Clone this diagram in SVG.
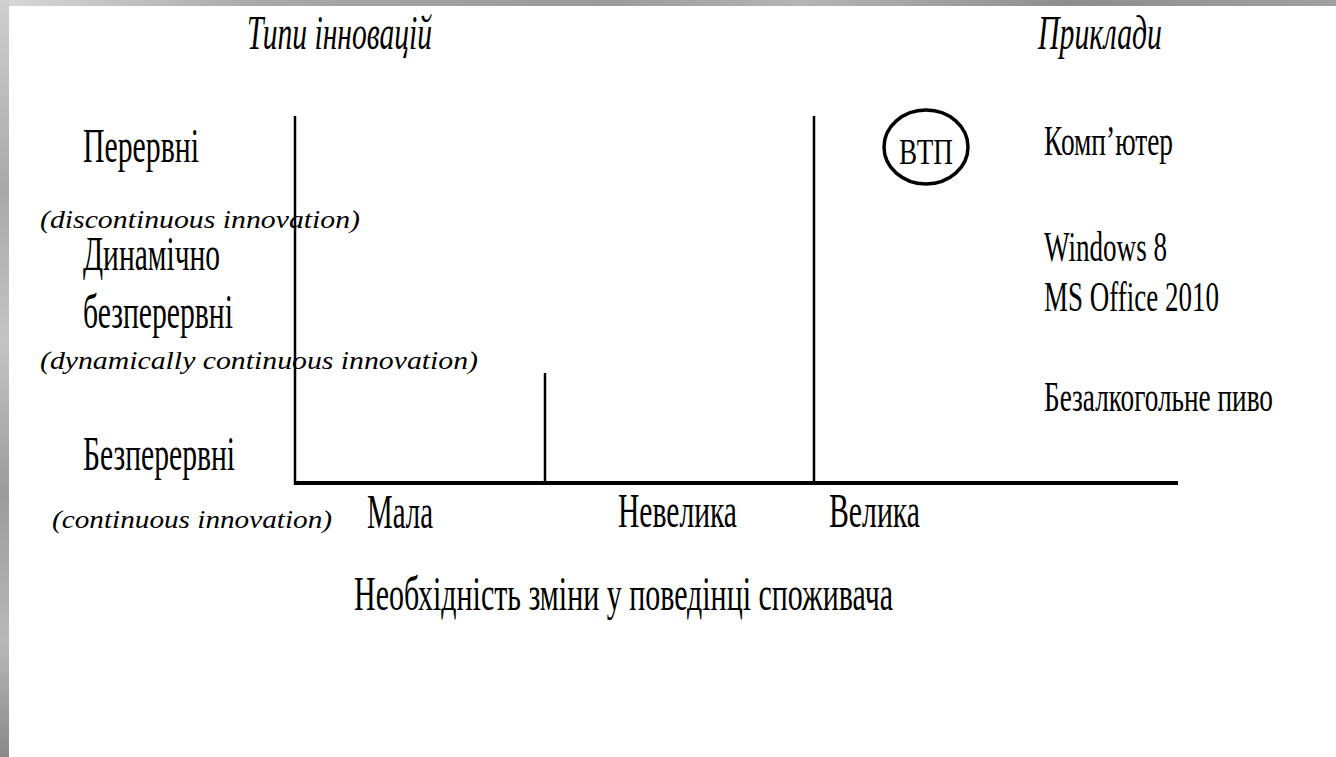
<svg xmlns="http://www.w3.org/2000/svg" width="1336" height="757" viewBox="0 0 1336 757">
<defs>
<linearGradient id="topg" x1="0" y1="0" x2="1" y2="0">
<stop offset="0" stop-color="#d8d8d8"/>
<stop offset="0.2" stop-color="#a8a8a8"/>
<stop offset="0.45" stop-color="#9a9a9a"/>
<stop offset="0.6" stop-color="#b5b5b5"/>
<stop offset="0.8" stop-color="#8e8e8e"/>
<stop offset="1" stop-color="#a0a0a0"/>
</linearGradient>
<linearGradient id="leftg" x1="0" y1="0" x2="0" y2="1">
<stop offset="0" stop-color="#cfcfcf"/>
<stop offset="0.25" stop-color="#a9a9a9"/>
<stop offset="0.45" stop-color="#c4c4c4"/>
<stop offset="0.65" stop-color="#9c9c9c"/>
<stop offset="0.85" stop-color="#b8b8b8"/>
<stop offset="1" stop-color="#888888"/>
</linearGradient>
</defs>
<style>
.t{font-family:"Liberation Serif","Times New Roman",serif;fill:#000;}
.big{font-size:48px;}
.hd{font-size:48px;font-style:italic;}
.ex{font-size:42px;}
.en{font-size:26px;font-style:italic;}
.ax{stroke:#000;fill:none;}
</style>
<rect x="0" y="0" width="1336" height="757" fill="#fff"/>
<rect x="0" y="0" width="1336" height="6" fill="url(#topg)"/>
<rect x="0" y="0" width="9" height="757" fill="url(#leftg)"/>

<g id="headers">
<text class="t hd" x="247" y="49" textLength="185" lengthAdjust="spacingAndGlyphs">Типи інновацій</text>
<text class="t hd" x="1038" y="49" textLength="124" lengthAdjust="spacingAndGlyphs">Приклади</text>
</g>

<g id="row-discontinuous">
<text class="t big" x="83" y="162" textLength="116" lengthAdjust="spacingAndGlyphs">Перервні</text>
<text class="t en" x="40" y="228" textLength="320" lengthAdjust="spacingAndGlyphs">(discontinuous innovation)</text>
</g>

<g id="row-dynamic">
<text class="t big" x="83" y="270" textLength="137" lengthAdjust="spacingAndGlyphs">Динамічно</text>
<text class="t big" x="83" y="328" textLength="150" lengthAdjust="spacingAndGlyphs">безперервні</text>
<text class="t en" x="40" y="369" textLength="438" lengthAdjust="spacingAndGlyphs">(dynamically continuous innovation)</text>
</g>

<g id="row-continuous">
<text class="t big" x="83" y="470" textLength="152" lengthAdjust="spacingAndGlyphs">Безперервні</text>
<text class="t en" x="52" y="528" textLength="280" lengthAdjust="spacingAndGlyphs">(continuous innovation)</text>
</g>

<g id="connectors">
<line class="ax" x1="295" y1="116" x2="295" y2="485" stroke-width="2.5"/>
<line class="ax" x1="545" y1="373" x2="545" y2="485" stroke-width="2.5"/>
<line class="ax" x1="814" y1="116" x2="814" y2="485" stroke-width="2.5"/>
<line class="ax" x1="294" y1="483" x2="1178" y2="483" stroke-width="4"/>
</g>

<g id="x-labels">
<text class="t big" x="367" y="528" textLength="66" lengthAdjust="spacingAndGlyphs">Мала</text>
<text class="t big" x="618" y="527" textLength="119" lengthAdjust="spacingAndGlyphs">Невелика</text>
<text class="t big" x="829" y="527" textLength="91" lengthAdjust="spacingAndGlyphs">Велика</text>
</g>

<g id="x-title">
<text class="t big" x="354" y="610" textLength="539" lengthAdjust="spacingAndGlyphs">Необхідність зміни у поведінці споживача</text>
</g>

<g id="vtp">
<ellipse cx="926" cy="147" rx="42" ry="37" fill="none" stroke="#000" stroke-width="3.5"/>
<text class="t" x="899" y="164" font-size="36" textLength="54" lengthAdjust="spacingAndGlyphs">ВТП</text>
</g>

<g id="examples">
<text class="t ex" x="1044" y="155" textLength="129" lengthAdjust="spacingAndGlyphs">Комп’ютер</text>
<text class="t ex" x="1044" y="261" textLength="123" lengthAdjust="spacingAndGlyphs">Windows 8</text>
<text class="t ex" x="1044" y="311" textLength="175" lengthAdjust="spacingAndGlyphs">MS Office 2010</text>
<text class="t ex" x="1044" y="411" textLength="229" lengthAdjust="spacingAndGlyphs">Безалкогольне пиво</text>
</g>
</svg>
